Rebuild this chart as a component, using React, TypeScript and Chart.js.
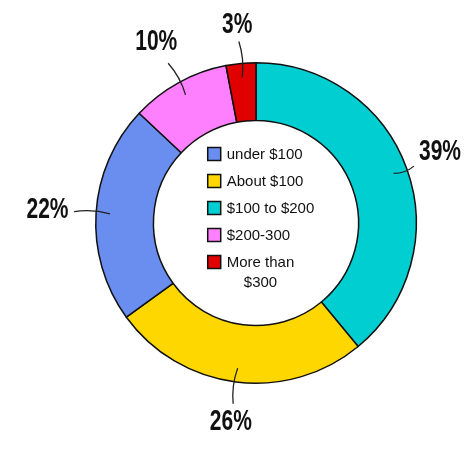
import React, { useEffect, useRef } from "react";
import { Chart, registerables } from "chart.js";

Chart.register(...registerables);

// Ring order, clockwise from 12 o'clock
const categories = ["$100 to $200", "About $100", "under $100", "$200-300", "More than $300"];
const shares = [39, 26, 22, 10, 3];
const colors = ["#00CED1", "#FFD700", "#6A8DF0", "#FF80FF", "#E00000"];
// Order in which the legend lists the categories
const legendOrder = ["under $100", "About $100", "$100 to $200", "$200-300", "More than $300"];

const LABEL_FONT = "bold 30px 'Liberation Sans', 'DejaVu Sans', sans-serif";
const LABEL_SQUEEZE = 0.7;
const LEGEND_FONT = "15px 'Liberation Sans', 'DejaVu Sans', sans-serif";

const calloutPlugin = {
  id: "callouts",
  afterDatasetsDraw(chart: any) {
    const ctx = chart.ctx as CanvasRenderingContext2D;
    const meta = chart.getDatasetMeta(0);
    const W = chart.width;
    ctx.save();
    meta.data.forEach((arc: any, i: number) => {
      const p = arc.getProps(["x", "y", "startAngle", "endAngle", "outerRadius"], true);
      const a = (p.startAngle + p.endAngle) / 2;
      const c = Math.cos(a);
      const s = Math.sin(a);
      const txt = shares[i] + "%";
      ctx.font = LABEL_FONT;
      const w = ctx.measureText(txt).width * LABEL_SQUEEZE;
      const h = 22;
      const ext = Math.abs(c) * w / 2 + Math.abs(s) * h / 2;

      const r0 = p.outerRadius - 14;
      let r1 = p.outerRadius + 22;
      const rt = r1 + 5 + ext;
      let tx = p.x + c * rt;
      const ty = p.y + s * rt;
      // keep the label inside the canvas
      if (tx + w / 2 > W - 3) {
        tx = W - 3 - w / 2;
        r1 = Math.min(r1, (tx - w / 2 - 5 - p.x) / c);
      } else if (tx - w / 2 < 3) {
        tx = 3 + w / 2;
        r1 = Math.min(r1, (tx + w / 2 + 5 - p.x) / c);
      }

      const x0 = p.x + c * r0, y0 = p.y + s * r0;
      const x1 = p.x + c * r1, y1 = p.y + s * r1;
      const mx = (x0 + x1) / 2 - s * 4, my = (y0 + y1) / 2 + c * 4;
      ctx.beginPath();
      ctx.moveTo(x0, y0);
      ctx.quadraticCurveTo(mx, my, x1, y1);
      ctx.strokeStyle = "#222";
      ctx.lineWidth = 1.3;
      ctx.stroke();

      ctx.fillStyle = "#111";
      ctx.textAlign = "center";
      ctx.textBaseline = "middle";
      ctx.save();
      ctx.translate(tx, ty);
      ctx.scale(LABEL_SQUEEZE, 1);
      ctx.fillText(txt, 0, 0);
      ctx.restore();
    });

    // legend in the hole
    const first = meta.data[0].getProps(["x", "y", "innerRadius"], true);
    const cx = first.x, cy = first.y;
    ctx.font = LEGEND_FONT;
    const box = 13, gap = 6, rowH = 27, wrapH = 20;
    const maxW = 95;
    const rows = legendOrder.map((name) => {
      const idx = categories.indexOf(name);
      let lines = [name];
      if (ctx.measureText(name).width > maxW) {
        const words = name.split(" ");
        const l1: string[] = [];
        const l2: string[] = [];
        words.forEach((wd) => {
          if (l2.length === 0 && ctx.measureText([...l1, wd].join(" ")).width <= maxW) l1.push(wd);
          else l2.push(wd);
        });
        lines = [l1.join(" "), l2.join(" ")];
      }
      return { idx, lines };
    });
    const textW = Math.max(...rows.map((r) => ctx.measureText(r.lines[0]).width));
    const blockW = box + gap + textW;
    const totalH = rows.reduce((acc, r) => acc + (r === rows[rows.length - 1] ? box : rowH) + (r.lines.length - 1) * wrapH, 0);
    let y = cy - totalH / 2 - 5;
    const left = cx - blockW / 2 + 5;
    rows.forEach((r) => {
      const rowCy = y + box / 2;
      ctx.fillStyle = colors[r.idx];
      ctx.fillRect(left, rowCy - box / 2, box, box);
      ctx.strokeStyle = "#111";
      ctx.lineWidth = 1.5;
      ctx.strokeRect(left, rowCy - box / 2, box, box);
      ctx.fillStyle = "#111";
      ctx.textAlign = "left";
      ctx.textBaseline = "middle";
      const tx = left + box + gap;
      ctx.fillText(r.lines[0], tx, rowCy + 1);
      if (r.lines.length > 1) {
        const w0 = ctx.measureText(r.lines[0]).width;
        ctx.textAlign = "center";
        ctx.fillText(r.lines[1], tx + w0 / 2, rowCy + 1 + wrapH);
      }
      y += rowH + (r.lines.length - 1) * wrapH;
    });
    ctx.restore();
  },
};

export default function App() {
  const ref = useRef<HTMLCanvasElement | null>(null);
  useEffect(() => {
    if (!ref.current) return;
    const chart = new Chart(ref.current, {
      type: "doughnut",
      data: {
        labels: categories,
        datasets: [
          {
            data: shares,
            backgroundColor: colors,
            borderColor: "#111",
            borderWidth: 1.5,
          },
        ],
      },
      options: {
        responsive: false,
        animation: false,
        cutout: "64%",
        layout: { padding: { left: 95, right: 47, top: 62, bottom: 72 } },
        plugins: {
          legend: { display: false },
          tooltip: { enabled: false },
        },
      },
      plugins: [calloutPlugin],
    });
    return () => chart.destroy();
  }, []);
  return (
    <div style={{ position: "absolute", left: 0, top: 0, width: 464, height: 456, background: "#fff" }}>
      <canvas ref={ref} width={464} height={456} style={{ width: 464, height: 456 }} />
    </div>
  );
}
